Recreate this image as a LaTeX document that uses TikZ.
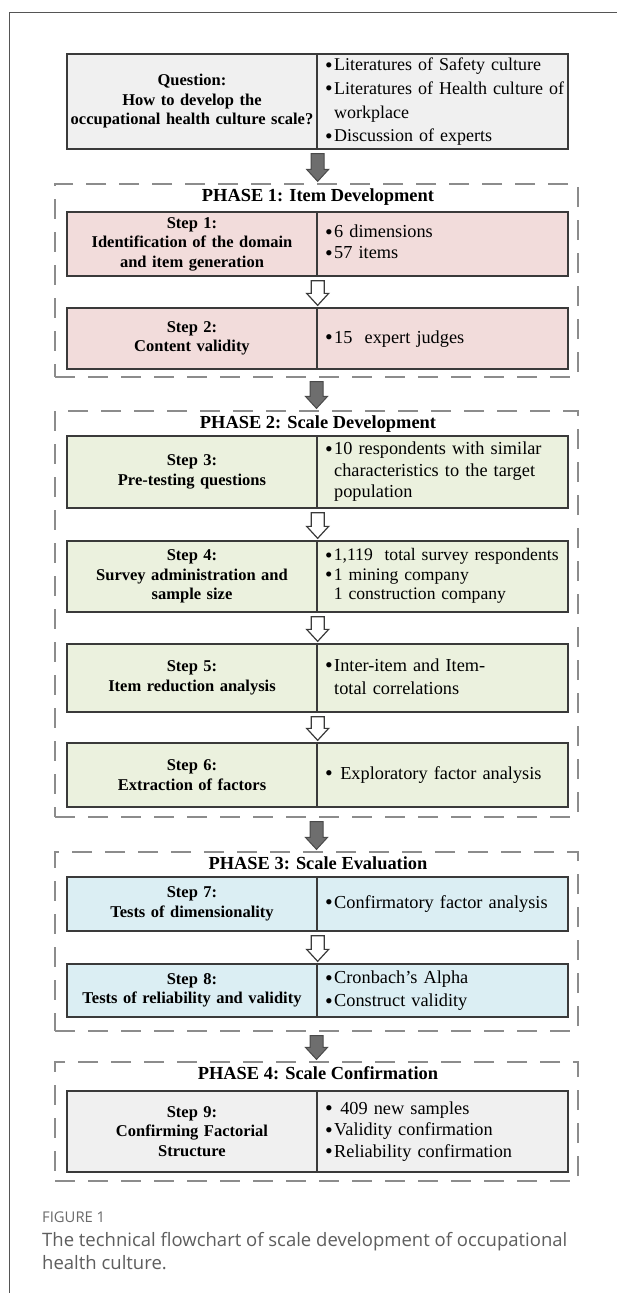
\documentclass[tikz,border=0pt]{standalone}
\usepackage{fontspec}
\usepackage{graphicx}
\setmainfont{Liberation Serif}
\newfontfamily\capfont{Open Sans}
\usetikzlibrary{calc}
\definecolor{boxline}{HTML}{3A3A3A}
\definecolor{dashgray}{HTML}{8C8C8C}
\definecolor{framegray}{HTML}{555555}
\definecolor{cgray}{HTML}{F0F0F0}
\definecolor{cpink}{HTML}{F2DCDB}
\definecolor{cgreen}{HTML}{EBF1DE}
\definecolor{cblue}{HTML}{DBEEF3}
\definecolor{darrow}{HTML}{6E6E6E}
\definecolor{darrowline}{HTML}{4A4A4A}
\definecolor{capgray}{HTML}{5E5E5E}
\definecolor{figgray}{HTML}{6A6A6A}
\newcommand\blockarrow[3]{%
  \path[#1] let \p1=(#2), \p2=(#3) in
    ({\x1-6.5pt},{\y1-4pt}) -- ({\x1+6.5pt},{\y1-4pt}) -- ({\x1+6.5pt},{\y2+14pt})
    -- ({\x1+11pt},{\y2+14pt}) -- ({\x1},{\y2+2pt}) -- ({\x1-11pt},{\y2+14pt})
    -- ({\x1-6.5pt},{\y2+14pt}) -- cycle;}
\newcommand\bl{\raisebox{-0.08em}{\scalebox{1.2}{\textbullet}}}
\begin{document}
\begin{tikzpicture}[x=1pt,y=-1pt,
  cellL/.style={draw=boxline, line width=1.3pt, inner xsep=1pt, inner ysep=0pt,
    text width=248pt, align=center, font=\fontsize{16.5}{19.5}\selectfont\bfseries},
  cellR/.style={draw=boxline, line width=1.3pt, inner xsep=8pt, inner ysep=0pt,
    text width=235pt, align=left, font=\fontsize{18.3}{22.5}\selectfont},
  phasebox/.style={draw=dashgray, line width=1.2pt, dash pattern=on 20pt off 13pt,
    minimum width=523pt, inner sep=0pt},
  ptitle/.style={font=\fontsize{18.4}{22}\selectfont\bfseries, inner sep=0pt},
  darkarr/.style={fill=darrow, draw=darrowline, line width=1pt, line join=miter},
  whitearr/.style={fill=white, draw=boxline, line width=1.2pt, line join=miter},
  frameline/.style={draw=framegray, line width=1pt}
]
\useasboundingbox (0,0) rectangle (617,1293);
\fill[white] (0,0) rectangle (617,1293);
\draw[frameline] (9.5,1293) -- (9.5,12.5) -- (617,12.5);

% phase boxes
\node[phasebox, minimum height=193pt] (ph1) at (316.5,280.5) {};
\node[phasebox, minimum height=406pt] (ph2) at (316.5,614) {};
\node[phasebox, minimum height=179pt] (ph3) at (316.5,941.5) {};
\node[phasebox, minimum height=119pt] (ph4) at (316.5,1121.5) {};
\node[ptitle] (ph1t) at (318,197) {PHASE 1: Item Development};
\node[ptitle] (ph2t) at (318,424) {PHASE 2: Scale Development};
\node[ptitle] (ph3t) at (318,863) {PHASE 3: Scale Evaluation};
\node[ptitle] (ph4t) at (318,1073) {PHASE 4: Scale Confirmation};

% question box
\node[cellL, fill=cgray, minimum height=95pt] (qL) at (192,101.5)
  {Question:\\How to develop the\\occupational health culture scale?};
\node[cellR, fill=cgray, minimum height=95pt, font=\fontsize{18}{23.7}\selectfont] (qR) at (442.5,101.5)
  {\begin{tabular}{@{}l@{\hspace{1.5pt}}l@{}}\bl&Literatures of Safety culture\\ \bl&Literatures of Health culture of\\ &workplace\\ \bl&Discussion of experts\end{tabular}};

% step 1
\node[cellL, fill=cpink, minimum height=64pt] (s1L) at (192,244)
  {Step 1:\\Identification of the domain\\and item generation};
\node[cellR, fill=cpink, minimum height=64pt, font=\fontsize{18.3}{21}\selectfont] (s1R) at (442.5,244)
  {\begin{tabular}{@{}l@{\hspace{1.5pt}}l@{}}\bl&6 dimensions\\ \bl&57 items\end{tabular}};
% step 2
\node[cellL, fill=cpink, minimum height=61pt] (s2L) at (192,338.5)
  {Step 2:\\Content validity};
\node[cellR, fill=cpink, minimum height=61pt] (s2R) at (442.5,338.5)
  {\begin{tabular}{@{}l@{\hspace{1.5pt}}l@{}}\bl&15~~expert judges\end{tabular}};
% step 3
\node[cellL, fill=cgreen, minimum height=72pt] (s3L) at (192,472)
  {Step 3:\\Pre-testing questions};
\node[cellR, fill=cgreen, minimum height=72pt, font=\fontsize{18.3}{21.5}\selectfont] (s3R) at (442.5,472)
  {\begin{tabular}{@{}l@{\hspace{1.5pt}}l@{}}\bl&10 respondents with similar\\ &characteristics to the target\\ &population\end{tabular}};
% step 4
\node[cellL, fill=cgreen, minimum height=71pt] (s4L) at (192,576.5)
  {Step 4:\\Survey administration and\\sample size};
\node[cellR, fill=cgreen, minimum height=71pt, font=\fontsize{17.6}{19.5}\selectfont] (s4R) at (442.5,576.5)
  {\begin{tabular}{@{}l@{\hspace{1.5pt}}l@{}}\bl&1,119~~total survey respondents\\ \bl&1 mining company\\ &1 construction company\end{tabular}};
% step 5
\node[cellL, fill=cgreen, minimum height=68pt] (s5L) at (192,678)
  {Step 5:\\Item reduction analysis};
\node[cellR, fill=cgreen, minimum height=68pt, font=\fontsize{18.3}{23}\selectfont] (s5R) at (442.5,678)
  {\begin{tabular}{@{}l@{\hspace{1.5pt}}l@{}}\bl&Inter-item and Item-\\ &total correlations\end{tabular}};
% step 6
\node[cellL, fill=cgreen, minimum height=64pt] (s6L) at (192,775)
  {Step 6:\\Extraction of factors};
\node[cellR, fill=cgreen, minimum height=64pt] (s6R) at (442.5,775)
  {\begin{tabular}{@{}l@{\hspace{1.5pt}}l@{}}\bl&\ Exploratory factor analysis\end{tabular}};
% step 7
\node[cellL, fill=cblue, minimum height=54pt] (s7L) at (192,904)
  {Step 7:\\Tests of dimensionality};
\node[cellR, fill=cblue, minimum height=54pt] (s7R) at (442.5,904)
  {\begin{tabular}{@{}l@{\hspace{1.5pt}}l@{}}\bl&Confirmatory factor analysis\end{tabular}};
% step 8
\node[cellL, fill=cblue, minimum height=53pt] (s8L) at (192,990.5)
  {Step 8:\\Tests of reliability and validity};
\node[cellR, fill=cblue, minimum height=53pt, font=\fontsize{18.3}{23}\selectfont] (s8R) at (442.5,990.5)
  {\begin{tabular}{@{}l@{\hspace{1.5pt}}l@{}}\bl&Cronbach’s Alpha\\ \bl&Construct validity\end{tabular}};
% step 9
\node[cellL, fill=cgray, minimum height=81pt] (s9L) at (192,1131.5)
  {Step 9:\\Confirming Factorial\\Structure};
\node[cellR, fill=cgray, minimum height=81pt, font=\fontsize{18.3}{21.5}\selectfont] (s9R) at (442.5,1131.5)
  {\begin{tabular}{@{}l@{\hspace{1.5pt}}l@{}}\bl&\ 409 new samples\\ \bl&Validity confirmation\\ \bl&Reliability confirmation\end{tabular}};

% arrows
\blockarrow{darkarr}{qL.south east}{ph1.north}
\blockarrow{whitearr}{s1L.south east}{s2L.north east}
\blockarrow{darkarr}{ph1.south}{ph2.north}
\blockarrow{whitearr}{s3L.south east}{s4L.north east}
\blockarrow{whitearr}{s4L.south east}{s5L.north east}
\blockarrow{whitearr}{s5L.south east}{s6L.north east}
\blockarrow{darkarr}{ph2.south}{ph3.north}
\blockarrow{whitearr}{s7L.south east}{s8L.north east}
\blockarrow{darkarr}{ph3.south}{ph4.north}

% caption
\node[anchor=west, inner sep=0pt, text=figgray, font=\capfont\fontsize{14.8}{17}\selectfont] (fig) at (42,1217) {FIGURE 1};
\node[anchor=north west, inner sep=0pt, align=left, text=capgray, font=\capfont\fontsize{18.5}{23}\selectfont] (cap) at (42,1232)
  {The technical flowchart of scale development of occupational\\health culture.};
\end{tikzpicture}
\end{document}
